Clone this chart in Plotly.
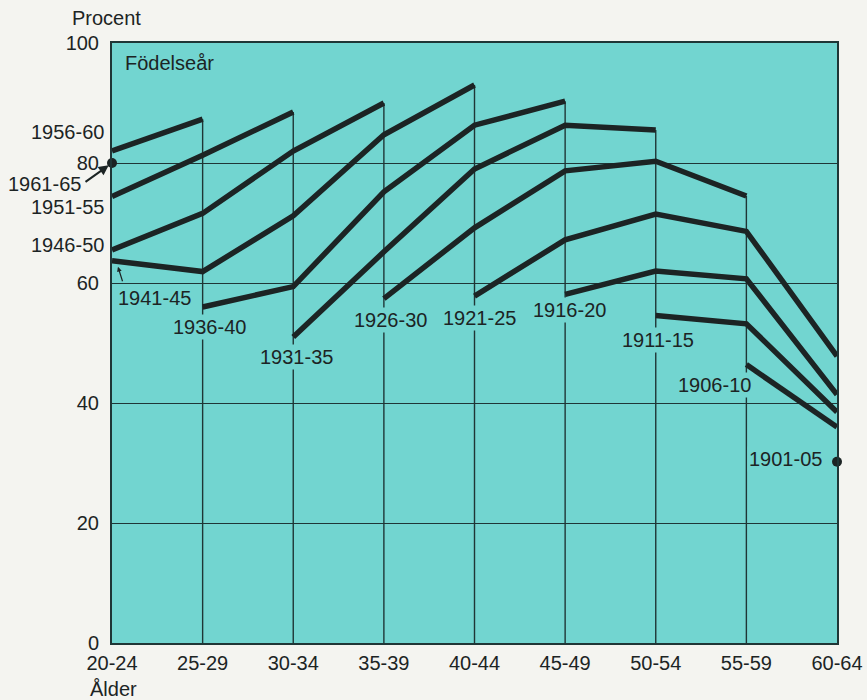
import plotly.graph_objects as go

# ---------------- data ----------------
age_groups = ["20-24", "25-29", "30-34", "35-39", "40-44", "45-49", "50-54", "55-59", "60-64"]
y_ticks = [0, 20, 40, 60, 80, 100]

cohort_labels = ["1961-65", "1956-60", "1951-55", "1946-50", "1941-45", "1936-40", "1931-35",
                 "1926-30", "1921-25", "1916-20", "1911-15", "1906-10", "1901-05"]
start_index = [0, 0, 0, 0, 0, 1, 2, 3, 4, 5, 6, 7, 8]

v1961_65 = [80.0]
v1956_60 = [82.0, 87.3]
v1951_55 = [74.4, 81.3, 88.5]
v1946_50 = [65.5, 71.6, 82.0, 90.0]
v1941_45 = [63.7, 61.9, 71.2, 84.7, 93.0]
v1936_40 = [56.0, 59.4, 75.2, 86.3, 90.3]
v1931_35 = [51.0, 65.2, 79.0, 86.3, 85.5]
v1926_30 = [57.4, 69.2, 78.7, 80.3, 74.5]
v1921_25 = [57.8, 67.2, 71.5, 68.6, 47.8]
v1916_20 = [58.1, 62.0, 60.7, 41.4]
v1911_15 = [54.6, 53.2, 38.5]
v1906_10 = [46.4, 36.0]
v1901_05 = [30.2]

cohort_values = [v1961_65, v1956_60, v1951_55, v1946_50, v1941_45, v1936_40, v1931_35,
                 v1926_30, v1921_25, v1916_20, v1911_15, v1906_10, v1901_05]

# ---------------- style ----------------
INK = "#1c2424"
GRID = "#1f3636"
PLOT_BG = "#72d5d0"
PAPER_BG = "#f4f4f0"
FONT = "Liberation Sans, Arial, Helvetica, sans-serif"
FS = 20

fig = go.Figure()

# drop lines: from 0 up to the end point of the cohort that ends highest in each column
n = len(age_groups)
top_end = {}
for vals, s in zip(cohort_values, start_index):
    end = s + len(vals) - 1
    if len(vals) > 1:
        top_end[end] = max(top_end.get(end, 0), vals[-1])
dx, dy = [], []
for col in range(1, n - 1):
    if col in top_end:
        dx += [col, col, None]
        dy += [0, top_end[col], None]
fig.add_trace(go.Scatter(x=dx, y=dy, mode="lines", line=dict(color=GRID, width=1.4),
                         hoverinfo="skip", showlegend=False))

# cohort lines
for lab, vals, s in zip(cohort_labels, cohort_values, start_index):
    xs = list(range(s, s + len(vals)))
    if len(vals) > 1:
        fig.add_trace(go.Scatter(x=xs, y=vals, mode="lines", name=lab,
                                 line=dict(color=INK, width=5.5), showlegend=False))
    else:
        fig.add_trace(go.Scatter(x=xs, y=vals, mode="markers", name=lab,
                                 marker=dict(color=INK, size=10), cliponaxis=False,
                                 showlegend=False))

fig.update_layout(
    width=867, height=700,
    margin=dict(l=112, r=30, t=43, b=57, autoexpand=False),
    paper_bgcolor=PAPER_BG, plot_bgcolor=PLOT_BG,
    font=dict(family=FONT, size=FS, color=INK),
    showlegend=False,
)
fig.update_xaxes(range=[0, n - 1], tickmode="array", tickvals=list(range(n)), ticktext=age_groups,
                 showgrid=False, zeroline=False, showline=True, mirror=True, linecolor=GRID,
                 linewidth=2, ticks="", ticklabelstandoff=1, automargin=False,
                 tickfont=dict(family=FONT, size=FS, color=INK))
fig.update_yaxes(range=[0, 100], tickmode="array", tickvals=y_ticks, ticktext=[str(t) for t in y_ticks],
                 showgrid=True, gridcolor=GRID, gridwidth=1.4, zeroline=False, showline=True,
                 mirror=True, linecolor=GRID, linewidth=2, ticks="", ticklabelstandoff=7,
                 automargin=False, tickfont=dict(family=FONT, size=FS, color=INK))

ann = []
def label(text, x, y, xref="x", yref="y", xanchor="center", bg=None):
    d = dict(text=text, x=x, y=y, xref=xref, yref=yref, xanchor=xanchor, yanchor="middle",
             showarrow=False, font=dict(family=FONT, size=FS, color=INK), borderpad=1)
    if bg:
        d["bgcolor"] = bg
    ann.append(d)

# in-plot cohort labels (masking the drop lines where they sit)
label("1941-45", 0.474, 57.5)
label("1936-40", 1.08, 52.7, bg=PLOT_BG)
label("1931-35", 2.04, 47.7, bg=PLOT_BG)
label("1926-30", 3.07, 53.8, bg=PLOT_BG)
label("1921-25", 4.06, 54.2, bg=PLOT_BG)
label("1916-20", 5.05, 55.5, bg=PLOT_BG)
label("1911-15", 6.02, 50.5, bg=PLOT_BG)
label("1906-10", 6.65, 43.0, bg=PLOT_BG)
label("1901-05", 7.43, 30.7, bg=PLOT_BG)
label("Födelseår", 0.12, 96.7, xanchor="left")

# left-margin cohort labels
label("1956-60", -0.0083, 85.2, xref="paper", xanchor="right")
label("1961-65", -0.093, 76.5, xref="paper")
label("1951-55", -0.0083, 72.7, xref="paper", xanchor="right")
label("1946-50", -0.0083, 66.3, xref="paper", xanchor="right")

# axis titles
label("Procent", -0.008, 1.0417, xref="paper", yref="paper")
label("Ålder", 0.0014, -0.076, xref="paper", yref="paper")

# arrows
ann.append(dict(x=0, y=80, xref="x", yref="y", text="", showarrow=True, ax=-28, ay=20,
                arrowhead=2, arrowsize=1, arrowwidth=2, arrowcolor=INK, standoff=4))
ann.append(dict(x=0.066, y=62.7, xref="x", yref="y", text="", showarrow=True, ax=5, ay=16,
                arrowhead=2, arrowsize=0.8, arrowwidth=1.2, arrowcolor=INK, standoff=0))

fig.update_layout(annotations=ann)

fig.write_html("out.html", config={"displayModeBar": False},
               post_script="document.body.style.margin='0px';document.body.style.overflow='hidden';")
